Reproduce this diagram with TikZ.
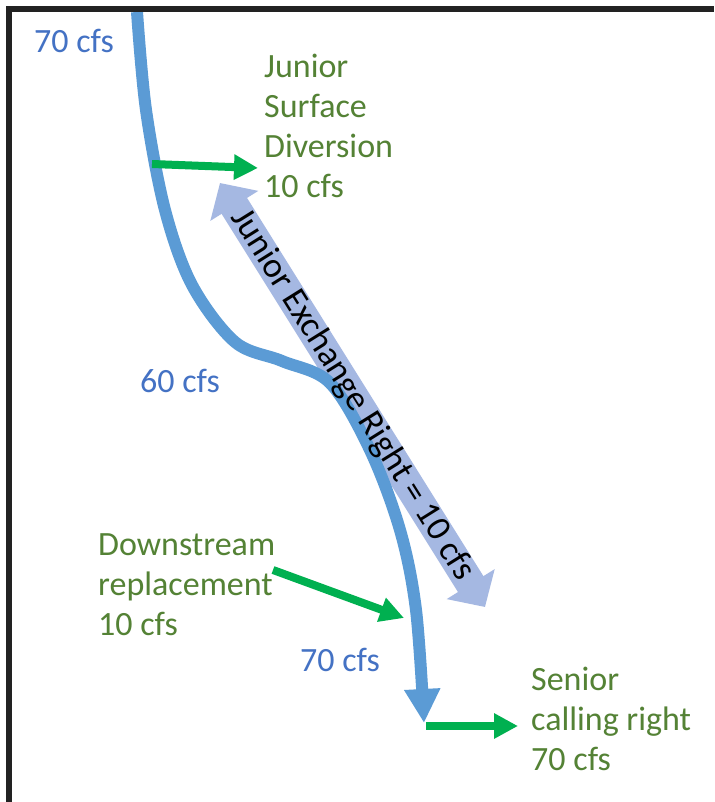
\documentclass[tikz,border=0pt]{standalone}
\usepackage{fontspec}
\setmainfont{Carlito}
\usetikzlibrary{arrows.meta,calc}

\definecolor{framegray}{HTML}{222222}
\definecolor{riverblue}{HTML}{5B9BD5}
\definecolor{cfsblue}{HTML}{4472C4}
\definecolor{usegreen}{HTML}{548235}
\definecolor{flowgreen}{HTML}{00B050}
\definecolor{xchgblue}{RGB}{165,184,226}

\begin{document}
\begin{tikzpicture}[x=1pt,y=-1pt,
    river/.style={draw=riverblue, line width=12pt, -{Triangle[length=34pt,width=34pt]}},
    flow/.style={draw=flowgreen, line width=8pt, -{Triangle[length=24pt,width=24pt]}},
    xchg/.style={draw=xchgblue, line width=30pt, {Triangle[length=27pt,width=55pt]}-{Triangle[length=27pt,width=55pt]}},
    cfs/.style={text=cfsblue, font=\fontsize{34}{40}\selectfont, anchor=north west, inner sep=0pt},
    usetext/.style={text=usegreen, font=\fontsize{34}{40}\selectfont, anchor=north west, inner sep=0pt, align=left}]
    \useasboundingbox (0,0) rectangle (714,802);
    \fill[white] (0,0) rectangle (714,802);

    % river points
    \coordinate (src) at (137,12);
    \coordinate (divpt) at (152,164);
    \coordinate (bump) at (282,361);
    \coordinate (reppt) at (404,618);
    \coordinate (gauge) at (424,723);

    % junior exchange right
    \coordinate (xtop) at (220,183);
    \coordinate (xbot) at (485,607);
    \draw[xchg] (xbot) -- (xtop);

    % the river
    \draw[river] plot[smooth, tension=0.55] coordinates {(src) (146,110) (165,210) (192,285)
        (235,342) (bump) (330,383) (370,450) (400,530) (416,610) (gauge)};

    \node[rotate=-58, font=\fontsize{35.5}{40}\selectfont, inner sep=0pt] (xlbl) at ($(xtop)!0.5!(xbot)$)
        {Junior Exchange Right = 10 cfs};

    % flow labels
    \node[cfs] (q70a) at (34,29) {70 cfs};
    \node[cfs] (q60) at (140,369) {60 cfs};
    \node[cfs] (q70b) at (300,648) {70 cfs};

    \node[usetext] (jsd) at (264,54) {Junior\\Surface\\Diversion\\10 cfs};
    \node[usetext] (repl) at (98,533) {Downstream\\replacement\\10 cfs};
    \node[usetext] (senior) at (531,667) {Senior\\calling right\\70 cfs};

    % green arrows
    \coordinate (divtip) at (258,168);
    \coordinate (reptail) at (273,570);
    \coordinate (callpt) at (426,726);
    \coordinate (calltip) at (518,726);
    \draw[flow] (divpt) -- (divtip);
    \draw[flow] (reptail) -- (reppt);
    \draw[flow] (callpt) -- (calltip);

    % frame
    \fill[framegray] (6,6) rectangle (714,12);
    \fill[framegray] (6,6) rectangle (12,802);
\end{tikzpicture}
\end{document}
